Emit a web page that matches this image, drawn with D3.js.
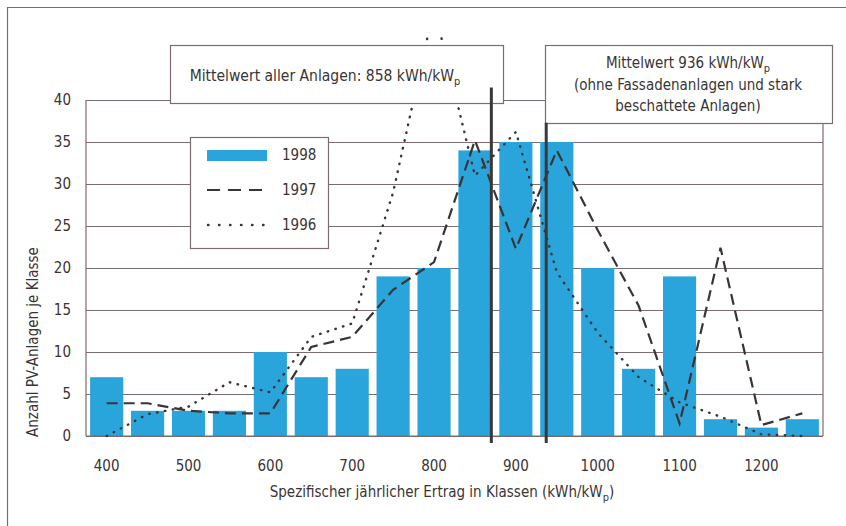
<!DOCTYPE html>
<html>
<head>
<meta charset="utf-8">
<script src="https://cdn.jsdelivr.net/npm/d3@7"></script>
<style>
  body { margin: 0; background: #fff; }
  svg text { font-family: "Liberation Sans Narrow", "DejaVu Sans Condensed", "Roboto Condensed", sans-serif; fill: #3a3434; }
</style>
</head>
<body>
<svg id="chart" width="846" height="526"></svg>
<script>
// classes (kWh/kWp) and counts per class
const classes = [400, 450, 500, 550, 600, 650, 700, 750, 800, 850, 900, 950, 1000, 1050, 1100, 1150, 1200, 1250];
const values1998 = [7, 3, 3, 3, 10, 7, 8, 19, 20, 34, 35, 35, 20, 8, 19, 2, 1, 2];
const values1997 = [3.9, 3.9, 3.0, 2.7, 2.7, 10.6, 11.8, 17.4, 20.7, 35.2, 22.3, 34, 24.5, 15.5, 1.5, 22.4, 1.3, 2.7];
const values1996 = [0, 2.6, 3.5, 6.4, 5.2, 11.8, 13.4, 29, 51, 31, 36.2, 19.5, 12.3, 7, 4, 2.3, 0.2, 0];
const xTicks = [400, 500, 600, 700, 800, 900, 1000, 1100, 1200];
const yTicks = [0, 5, 10, 15, 20, 25, 30, 35, 40];
const legendLabels = ["1998", "1997", "1996"];
// mean markers: position on the class axis as drawn, and top of the line (count units)
const meanPos = [870, 937];
const meanTop = [41.5, 37.3];

const colors = { bar: "#2aa5dc", grid: "#7d6b6d", line: "#3a3434", mean: "#3b3838" };

const svg = d3.select("#chart");
const pLeft = 86, pRight = 823, pTop = 100, pBottom = 436;

const x = d3.scaleBand().domain(classes).range([pLeft, pRight]).paddingInner(0.19).paddingOuter(0.1);
const xLin = d3.scaleLinear().domain([375, 1275]).range([pLeft, pRight]);
const y = d3.scaleLinear().domain([0, 40]).range([pBottom, pTop]);
const cx = d => x(d) + x.bandwidth() / 2;

// outer frame (only left and top visible)
svg.append("path")
    .attr("d", `M7.5,526V7.5H846`)
    .attr("fill", "none").attr("stroke", colors.grid).attr("stroke-width", 1.2);

// grid lines
svg.append("g")
    .attr("transform", `translate(${pLeft},0)`)
    .call(d3.axisLeft(y).tickValues(yTicks).tickSize(-(pRight - pLeft)).tickFormat(""))
    .call(g => g.select(".domain").remove())
    .selectAll("line").attr("stroke", colors.grid).attr("stroke-width", 1.2);

// plot frame sides
svg.append("line").attr("x1", pLeft).attr("x2", pLeft).attr("y1", pTop).attr("y2", pBottom)
    .attr("stroke", colors.grid).attr("stroke-width", 1.2);
svg.append("line").attr("x1", pRight).attr("x2", pRight).attr("y1", pTop).attr("y2", pBottom)
    .attr("stroke", colors.grid).attr("stroke-width", 1.2);

// y tick labels
svg.append("g").selectAll("text")
    .data(yTicks).enter().append("text")
    .attr("x", 71).attr("y", d => y(d)).attr("dy", "0.35em")
    .attr("text-anchor", "end").style("font-size", "15px")
    .text(d => d);

// x tick labels
svg.append("g").selectAll("text")
    .data(xTicks).enter().append("text")
    .attr("x", d => cx(d)).attr("y", 466).attr("dy", "0.35em")
    .attr("text-anchor", "middle").style("font-size", "15px")
    .text(d => d);

// bars 1998
svg.append("g").selectAll("rect")
    .data(classes).enter().append("rect")
    .attr("x", d => x(d)).attr("width", x.bandwidth())
    .attr("y", (d, i) => y(values1998[i]))
    .attr("height", (d, i) => y(0) - y(values1998[i]))
    .attr("fill", colors.bar);

// baseline
svg.append("line").attr("x1", pLeft).attr("x2", pRight).attr("y1", pBottom).attr("y2", pBottom)
    .attr("stroke", colors.grid).attr("stroke-width", 1.2);

// clip for curves that run off the top
svg.append("clipPath").attr("id", "clip")
    .append("rect").attr("x", 0).attr("width", 846).attr("y", y(48)).attr("height", 526);

const line = d3.line().x((d, i) => cx(classes[i])).y(d => y(d));

svg.append("path")
    .datum(values1997)
    .attr("d", line)
    .attr("fill", "none").attr("stroke", colors.line).attr("stroke-width", 2.2)
    .attr("stroke-dasharray", "11,6");

svg.append("path")
    .datum(values1996)
    .attr("clip-path", "url(#clip)")
    .attr("d", line)
    .attr("fill", "none").attr("stroke", colors.line).attr("stroke-width", 2.4)
    .attr("stroke-linecap", "round")
    .attr("stroke-dasharray", "0.5,7.5");

// legend
const lg = svg.append("g").attr("transform", "translate(190,137)");
lg.append("rect").attr("x", 0.5).attr("y", 0.5).attr("width", 138).attr("height", 111)
    .attr("fill", "#fff").attr("stroke", colors.grid).attr("stroke-width", 1.2);
lg.append("rect").attr("x", 17).attr("y", 13).attr("width", 60).attr("height", 11).attr("fill", colors.bar);
lg.append("line").attr("x1", 17).attr("x2", 77).attr("y1", 53).attr("y2", 53)
    .attr("stroke", colors.line).attr("stroke-width", 2.2).attr("stroke-dasharray", "13,8");
lg.append("line").attr("x1", 18).attr("x2", 77).attr("y1", 88).attr("y2", 88)
    .attr("stroke", colors.line).attr("stroke-width", 2.4).attr("stroke-linecap", "round")
    .attr("stroke-dasharray", "0.5,10.5");
lg.selectAll("text.lbl").data(legendLabels).enter().append("text")
    .attr("x", 92).attr("y", (d, i) => 18 + i * 35).attr("dy", "0.35em")
    .style("font-size", "15px").text(d => d);

// annotation boxes
function box(x0, y0, w, h) {
    svg.append("rect").attr("x", x0 + 0.5).attr("y", y0 + 0.5).attr("width", w).attr("height", h)
        .attr("fill", "#fff").attr("stroke", colors.grid).attr("stroke-width", 1.2);
}
box(170, 45, 333, 58);
box(545, 45, 287, 78);

function subText(tx, ty, before, after, size) {
    const t = svg.append("text").attr("x", tx).attr("y", ty)
        .attr("text-anchor", "middle").style("font-size", (size || 15) + "px");
    t.append("tspan").text(before);
    t.append("tspan").attr("dy", 4).style("font-size", "11px").text("p");
    if (after) t.append("tspan").attr("dy", -4).text(after);
    return t;
}
subText(325, 81, "Mittelwert aller Anlagen: 858 kWh/kW", null, 15.5);
subText(688, 68, "Mittelwert 936 kWh/kW");
svg.append("text").attr("x", 688).attr("y", 90).attr("text-anchor", "middle")
    .style("font-size", "15px").text("(ohne Fassadenanlagen und stark");
svg.append("text").attr("x", 688).attr("y", 111).attr("text-anchor", "middle")
    .style("font-size", "15px").text("beschattete Anlagen)");

// mean lines
svg.append("g").selectAll("line")
    .data(meanPos).enter().append("line")
    .attr("x1", d => xLin(d)).attr("x2", d => xLin(d))
    .attr("y1", (d, i) => y(meanTop[i])).attr("y2", 443)
    .attr("stroke", colors.mean).attr("stroke-width", 3);

// axis titles
subText(442, 497, "Spezifischer jährlicher Ertrag in Klassen (kWh/kW", ")");
svg.append("text")
    .attr("transform", "translate(33,342) rotate(-90)")
    .attr("text-anchor", "middle").attr("dy", "0.35em")
    .style("font-size", "15px")
    .text("Anzahl PV-Anlagen je Klasse");
</script>
</body>
</html>
